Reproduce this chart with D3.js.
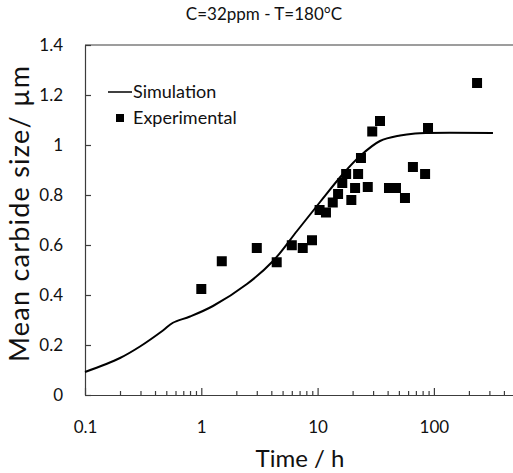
<!DOCTYPE html>
<html lang="en">
<head>
    <meta charset="utf-8">
    <title>Mean carbide size</title>
    <script src="https://cdn.jsdelivr.net/npm/d3@7"></script>
    <style>
        body { margin: 0; background: #fff; }
        text { font-family: Lato, "Open Sans", sans-serif; }
    </style>
</head>
<body>
<script>
    // simulation curve (time in h, size in um)
    var simTime = [0.1, 0.2, 0.297, 0.468, 0.57, 0.8, 1.26, 2.47, 4.14, 6.65, 10.5, 16.5, 23.2, 34.4, 51.2, 69, 87, 322];
    var simSize = [0.092, 0.148, 0.194, 0.258, 0.289, 0.314, 0.356, 0.444, 0.536, 0.656, 0.772, 0.884, 0.956, 1.016, 1.038, 1.046, 1.048, 1.048];

    // experimental points
    var expTime = [1.0, 1.5, 3.0, 4.45, 6.0, 7.45, 8.95, 10.4, 11.8, 13.5, 15.0, 16.3, 17.6, 19.5, 21.0, 22.3, 23.6, 27.0, 29.5, 34.4, 41.1, 47.2, 56.4, 66, 84, 89, 235];
    var expSize = [0.424, 0.535, 0.588, 0.531, 0.599, 0.588, 0.619, 0.74, 0.73, 0.77, 0.804, 0.848, 0.884, 0.78, 0.828, 0.884, 0.948, 0.832, 1.054, 1.096, 0.828, 0.828, 0.788, 0.912, 0.884, 1.068, 1.248];

    var xMajor = [0.1, 1, 10, 100];
    var xMajorLabels = ["0.1", "1", "10", "100"];
    var yTicks = [0, 0.2, 0.4, 0.6, 0.8, 1, 1.2, 1.4];
    var yTickLabels = ["0", "0.2", "0.4", "0.6", "0.8", "1", "1.2", "1.4"];

    var width = 513, height = 473;
    var plotLeft = 85, plotTop = 45, plotBottom = 395, decade = 116.3;

    var svg = d3.select("body").append("svg")
        .attr("width", width)
        .attr("height", height);

    var x = d3.scaleLog().domain([0.1, 1000]).range([plotLeft, plotLeft + 4 * decade]);
    var y = d3.scaleLinear().domain([0, 1.4]).range([plotBottom, plotTop]);

    var xMinor = [];
    [0.1, 1, 10, 100].forEach(function(b) {
        for (var k = 2; k <= 9; k++) xMinor.push(b * k);
    });

    var axisColor = "#3c3c3c";

    // top border
    svg.append("line")
        .attr("x1", x(0.1)).attr("x2", x(1000))
        .attr("y1", y(1.4)).attr("y2", y(1.4))
        .attr("stroke", axisColor).attr("stroke-width", 1.2);

    var gxMinor = svg.append("g")
        .attr("transform", "translate(0," + plotBottom + ")")
        .call(d3.axisBottom(x).tickValues(xMinor).tickSize(-4).tickSizeOuter(0).tickFormat(""));
    gxMinor.select(".domain").remove();

    var gx = svg.append("g")
        .attr("transform", "translate(0," + plotBottom + ")")
        .call(d3.axisBottom(x).tickValues(xMajor).tickSize(-7).tickSizeOuter(0).tickPadding(26)
            .tickFormat(function(d, i) { return xMajorLabels[i]; }));

    var gy = svg.append("g")
        .attr("transform", "translate(" + plotLeft + ",0)")
        .call(d3.axisLeft(y).tickValues(yTicks).tickSize(-6).tickSizeOuter(0).tickPadding(22)
            .tickFormat(function(d, i) { return yTickLabels[i]; }));

    svg.selectAll(".domain, .tick line")
        .attr("stroke", axisColor).attr("stroke-width", 1.2);
    svg.selectAll(".tick text")
        .attr("font-family", "Lato, sans-serif")
        .attr("font-size", 17)
        .attr("fill", "#111");

    // simulation line
    var line = d3.line()
        .x(function(d) { return x(d[0]); })
        .y(function(d) { return y(d[1]); })
        .curve(d3.curveCatmullRom.alpha(0.5));

    svg.append("path")
        .datum(d3.zip(simTime, simSize))
        .attr("d", line)
        .attr("fill", "none")
        .attr("stroke", "#000")
        .attr("stroke-width", 2);

    // experimental squares
    var sq = 10;
    svg.selectAll("rect.exp")
        .data(d3.zip(expTime, expSize))
        .enter()
        .append("rect")
        .attr("class", "exp")
        .attr("x", function(d) { return x(d[0]) - sq / 2; })
        .attr("y", function(d) { return y(d[1]) - sq / 2; })
        .attr("width", sq)
        .attr("height", sq)
        .attr("fill", "#000");

    // legend
    svg.append("line")
        .attr("x1", 108).attr("x2", 132).attr("y1", 92).attr("y2", 92)
        .attr("stroke", "#000").attr("stroke-width", 1.5);
    svg.append("text").attr("x", 133).attr("y", 98)
        .attr("font-size", 18).attr("fill", "#111").text("Simulation");
    svg.append("rect")
        .attr("x", 116).attr("y", 114).attr("width", 8).attr("height", 8).attr("fill", "#000");
    svg.append("text").attr("x", 133).attr("y", 124)
        .attr("font-size", 18).attr("fill", "#111").text("Experimental");

    // titles
    svg.append("text")
        .attr("x", 264).attr("y", 20)
        .attr("text-anchor", "middle")
        .attr("font-size", 17).attr("fill", "#111")
        .text("C=32ppm - T=180°C");

    svg.append("text")
        .attr("x", 300).attr("y", 467)
        .attr("text-anchor", "middle")
        .attr("font-size", 24).attr("fill", "#111")
        .text("Time / h");

    svg.append("text")
        .attr("transform", "translate(29,214) rotate(-90)")
        .attr("text-anchor", "middle")
        .attr("font-size", 27).attr("fill", "#111")
        .attr("textLength", 296)
        .attr("lengthAdjust", "spacing")
        .text("Mean carbide size/ µm");
</script>
</body>
</html>
